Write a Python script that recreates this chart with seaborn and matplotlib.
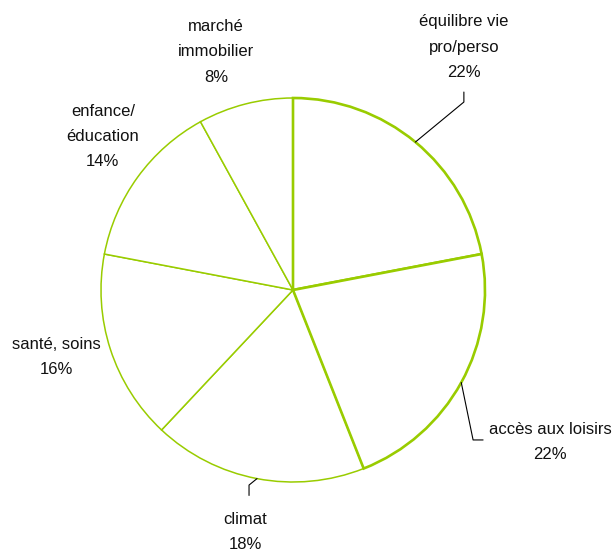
import matplotlib
matplotlib.use("Agg")
import matplotlib.pyplot as plt
import numpy as np
import seaborn as sns

# data
categories = ["équilibre vie\npro/perso", "accès aux loisirs", "climat",
              "santé, soins", "enfance/\néducation", "marché\nimmobilier"]
shares = [22, 22, 18, 16, 14, 8]

# label layout (data coords, pie radius = 1)
label_pos = [(0.89, 1.265), (1.34, -0.79), (-0.25, -1.26),
             (-1.23, -0.35), (-0.99, 0.80), (-0.40, 1.24)]
# elbow points for leader lines (None = no leader)
leader_pts = [[(0.89, 0.979), (0.89, 1.031)],
              [(0.938, -0.781), (0.990, -0.781)],
              [(-0.229, -1.016), (-0.229, -1.07)],
              None, None, None]

green = "#99cc00"

sns.set_theme(style="white")
plt.rcParams["font.family"] = ["Liberation Sans Narrow", "Liberation Sans", "DejaVu Sans"]

fig = plt.figure(figsize=(6.15, 5.52), dpi=100)
ax = fig.add_axes([0, 0, 1, 1])

wedges, _ = ax.pie(shares, startangle=90, counterclock=False, radius=1,
                   colors=["white"] * len(shares),
                   wedgeprops=dict(edgecolor=green, linewidth=1.1))
for i, w in enumerate(wedges):
    if i < 2:
        w.set_linewidth(1.9)
        w.set_zorder(3)

total = sum(shares)
start = 0.0
for i, (cat, val) in enumerate(zip(categories, shares)):
    mid = np.deg2rad(360 * (start + val / 2) / total)
    start += val
    x0, y0 = np.sin(mid), np.cos(mid)
    if leader_pts[i] is not None:
        xs = [x0] + [p[0] for p in leader_pts[i]]
        ys = [y0] + [p[1] for p in leader_pts[i]]
        ax.plot(xs, ys, color="black", lw=0.8, zorder=4)
    ax.text(label_pos[i][0], label_pos[i][1], f"{cat}\n{val}%",
            ha="center", va="center", fontsize=12, linespacing=1.85,
            color="#111111")

ax.set_xlim(-293 / 192, (615 - 293) / 192)
ax.set_ylim((290 - 552) / 192, 290 / 192)
ax.set_aspect("equal")
ax.axis("off")

fig.savefig("out.png", dpi=100, facecolor="white")
